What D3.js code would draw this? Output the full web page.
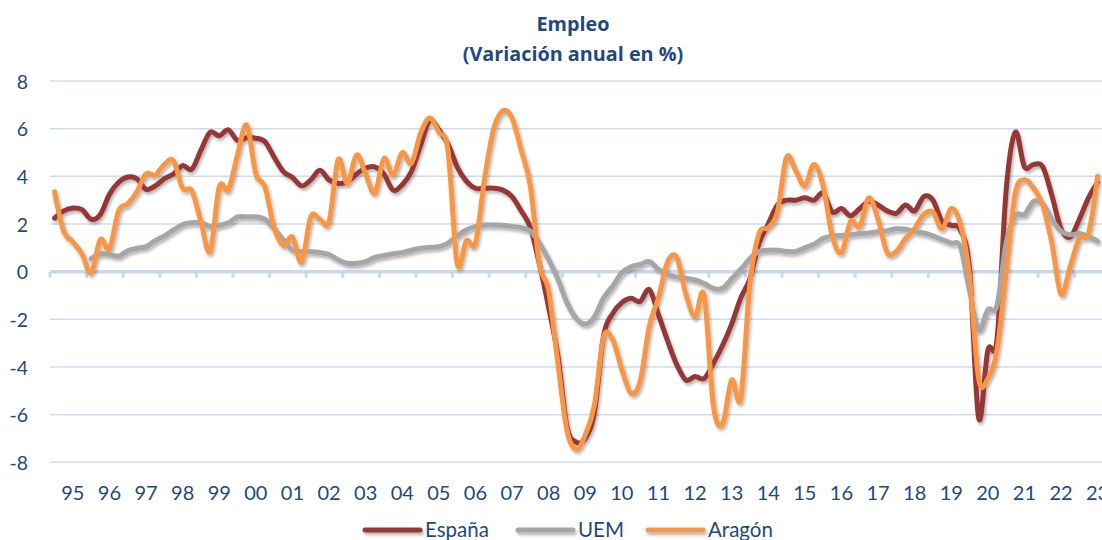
<!DOCTYPE html>
<html>
<head>
<meta charset="utf-8">
<script src="https://cdn.jsdelivr.net/npm/d3@7/dist/d3.min.js"></script>
<style>
	html, body { margin: 0; padding: 0; background: #fff; }
	#chart { width: 1102px; height: 540px; overflow: hidden; }
	text { font-family: Lato, "Open Sans", sans-serif; fill: #1F497D; }
</style>
</head>
<body>
<div id="chart"></div>
<script>
// quarterly series, 1994T3 .. 2023T1
var firstYear = 1994, firstQuarter = 3, nPoints = 115;

var yearLabels = ["95","96","97","98","99","00","01","02","03","04","05","06","07","08","09",
	"10","11","12","13","14","15","16","17","18","19","20","21","22","23"];

var yTicks = [-8, -6, -4, -2, 0, 2, 4, 6, 8];

var espana = [
	2.25, 2.55, 2.67, 2.6, 2.2, 2.4, 3.25, 3.75, 3.97, 3.9,
	3.45, 3.6, 3.9, 4.1, 4.45, 4.3, 5.1, 5.85, 5.7, 5.95,
	5.5, 5.62, 5.6, 5.45, 4.8, 4.2, 3.95, 3.6, 3.85, 4.25,
	3.85, 3.7, 3.77, 4.1, 4.35, 4.4, 4.1, 3.42, 3.65, 4.2,
	5.3, 6.35, 5.95, 5.35, 4.4, 3.8, 3.5, 3.5, 3.5, 3.42,
	3.15, 2.55, 1.85, 0.3, -1.5, -3.5, -6.5, -7.15, -7.0, -5.9,
	-2.7, -1.75, -1.3, -1.12, -1.25, -0.75, -1.8, -2.9, -3.9, -4.55,
	-4.4, -4.48, -3.85, -3.1, -2.2, -1.1, -0.3, 1.2, 2.0, 2.8,
	3.0, 3.0, 3.1, 3.0, 3.3, 2.5, 2.65, 2.35, 2.65, 2.95,
	2.8, 2.55, 2.45, 2.8, 2.55, 3.15, 3.0, 2.1, 1.95, 1.75,
	0.1, -6.15, -3.3, -2.85, 3.4, 5.85, 4.4, 4.5, 4.4, 3.2,
	1.8, 1.45, 2.2, 3.1, 3.75
];

var uem = [
	null, null, null, null, 0.55, 0.75, 0.72, 0.65, 0.88, 0.98,
	1.05, 1.3, 1.5, 1.75, 1.98, 2.05, 2.05, 1.9, 1.95, 2.05,
	2.3, 2.3, 2.3, 2.2, 1.8, 1.33, 0.9, 0.84, 0.84, 0.8,
	0.72, 0.5, 0.35, 0.35, 0.42, 0.6, 0.68, 0.75, 0.8, 0.9,
	0.98, 1.02, 1.05, 1.2, 1.5, 1.75, 1.9, 1.96, 1.96, 1.95,
	1.9, 1.85, 1.7, 1.2, 0.5, -0.3, -1.3, -1.95, -2.2, -1.9,
	-1.1, -0.6, -0.05, 0.2, 0.3, 0.42, 0.1, -0.12, -0.22, -0.28,
	-0.35, -0.5, -0.7, -0.7, -0.3, 0.1, 0.55, 0.85, 0.9, 0.9,
	0.85, 0.85, 1.0, 1.15, 1.4, 1.5, 1.52, 1.55, 1.6, 1.62,
	1.68, 1.72, 1.8, 1.78, 1.68, 1.62, 1.5, 1.35, 1.2, 1.05,
	-0.8, -2.45, -1.6, -1.42, 1.2, 2.35, 2.4, 2.95, 2.85, 2.2,
	1.7, 1.55, 1.6, 1.47, 1.28
];

var aragon = [
	3.35, 1.7, 1.25, 0.75, -0.05, 1.35, 0.95, 2.55, 2.85, 3.35,
	4.1, 4.05, 4.5, 4.65, 3.5, 3.4, 2.1, 0.85, 3.55, 3.45,
	4.9, 6.15, 4.1, 3.55, 1.85, 1.1, 1.45, 0.4, 2.3, 2.2,
	2.1, 4.7, 3.7, 4.9, 4.1, 3.3, 4.75, 4.05, 5.0, 4.55,
	5.8, 6.45, 5.85, 5.1, 0.35, 1.3, 1.2, 3.9, 6.0, 6.75,
	6.45, 5.1, 3.6, 0.3, -0.8, -3.8, -6.65, -7.45, -6.85, -5.6,
	-2.75, -2.85, -4.1, -5.1, -4.6, -2.3, -1.1, 0.4, 0.6, -0.95,
	-1.9, -1.0, -5.6, -6.4, -4.55, -5.3, -0.5, 1.6, 1.85, 2.5,
	4.8, 4.25, 3.6, 4.5, 3.6, 1.5, 0.8, 2.1, 1.9, 3.1,
	2.2, 0.8, 0.85, 1.4, 1.8, 2.4, 2.5, 1.8, 2.65, 2.0,
	-0.2, -4.5, -4.5, -3.3, 0.0, 3.3, 3.85, 3.5, 2.8, 1.2,
	-0.95, 0.2, 1.4, 1.6, 4.0
];

var seriesNames = ["España", "UEM", "Aragón"];
var seriesColors = ["#953735", "#A6A6A6", "#F79646"];

// build quarter categories
var categories = [];
for (var q = 0; q < nPoints; q++) {
	var k = firstQuarter - 1 + q;
	categories.push((firstYear + Math.floor(k / 4)) + "T" + (k % 4 + 1));
}

var width = 1102, height = 540;
var plotLeft = 50, plotRight = 1102.2, plotTop = 81, plotBottom = 462.3;

var svg = d3.select("#chart").append("svg")
	.attr("width", width)
	.attr("height", height);

// soft excel-like shadow
var defs = svg.append("defs");
defs.append("filter")
	.attr("id", "shadow")
	.attr("filterUnits", "userSpaceOnUse")
	.attr("x", 0).attr("y", 0).attr("width", width).attr("height", height)
	.append("feDropShadow")
	.attr("dx", 1.5).attr("dy", 2.5)
	.attr("stdDeviation", 1.6)
	.attr("flood-color", "#000")
	.attr("flood-opacity", 0.3);

var x = d3.scaleBand()
	.domain(categories)
	.range([plotLeft, plotRight])
	.padding(0);

var y = d3.scaleLinear()
	.domain([-8, 8])
	.range([plotBottom, plotTop]);

var cx = function(c) { return x(c) + x.bandwidth() / 2; };

// gridlines
svg.append("g")
	.attr("class", "grid")
	.selectAll("line")
	.data(yTicks.filter(function(d) { return d !== 0; }))
	.enter().append("line")
	.attr("x1", plotLeft)
	.attr("x2", plotRight)
	.attr("y1", function(d) { return y(d); })
	.attr("y2", function(d) { return y(d); })
	.attr("stroke", "#CFDDEF")
	.attr("stroke-width", 1.5);

// y axis labels (plain hyphen for negatives, as in the original)
var yAxis = d3.axisLeft(y)
	.tickValues(yTicks)
	.tickSize(0)
	.tickPadding(0)
	.tickFormat(function(d) { return String(d); });

var yAxisG = svg.append("g")
	.attr("transform", "translate(28,0)")
	.call(yAxis);
yAxisG.select(".domain").remove();
yAxisG.selectAll("text")
	.attr("x", 0)
	.attr("dy", "0.36em")
	.style("font-size", "19.5px")
	.style("fill", "#1F497D");

// zero axis with tick marks every 4 quarters
var zeroY = y(0);
svg.append("line")
	.attr("x1", plotLeft)
	.attr("x2", plotRight)
	.attr("y1", zeroY)
	.attr("y2", zeroY)
	.attr("stroke", "#C9D9EE")
	.attr("stroke-width", 3.5);

svg.append("g")
	.selectAll("line")
	.data(categories.filter(function(d, i) { return i % 4 === 0; }))
	.enter().append("line")
	.attr("x1", function(d) { return x(d); })
	.attr("x2", function(d) { return x(d); })
	.attr("y1", zeroY)
	.attr("y2", zeroY + 6)
	.attr("stroke", "#C9D9EE")
	.attr("stroke-width", 3);

// year labels under the plot, on first quarter of each year
var labelCats = categories.filter(function(d) { return /T1$/.test(d); });
svg.append("g")
	.selectAll("text")
	.data(labelCats)
	.enter().append("text")
	.attr("x", function(d) { return cx(d); })
	.attr("y", 500)
	.attr("text-anchor", "middle")
	.style("font-size", "20px")
	.text(function(d, i) { return yearLabels[i]; });

// series
var allSeries = [espana, uem, aragon];
var line = d3.line()
	.defined(function(d) { return d !== null; })
	.x(function(d, i) { return cx(categories[i]); })
	.y(function(d) { return y(d); })
	.curve(d3.curveCardinal.tension(0));

svg.append("g")
	.attr("filter", "url(#shadow)")
	.selectAll("path")
	.data(allSeries)
	.enter().append("path")
	.attr("d", line)
	.attr("fill", "none")
	.attr("stroke", function(d, i) { return seriesColors[i]; })
	.attr("stroke-width", 5)
	.attr("stroke-linejoin", "round")
	.attr("stroke-linecap", "round");

// title
var title = svg.append("text")
	.attr("text-anchor", "middle")
	.style("font-family", "'Open Sans', Lato, sans-serif")
	.style("font-size", "19.8px")
	.style("font-weight", "bold");
title.append("tspan").attr("x", 573).attr("y", 31).text("Empleo");
title.append("tspan").attr("x", 573).attr("y", 61).text("(Variación anual en %)");

// legend
var legendX = [365, 518, 648];
var legend = svg.append("g").attr("filter", "url(#shadow)");
legend.selectAll("line")
	.data(seriesNames)
	.enter().append("line")
	.attr("x1", function(d, i) { return legendX[i]; })
	.attr("x2", function(d, i) { return legendX[i] + 55; })
	.attr("y1", 530)
	.attr("y2", 530)
	.attr("stroke", function(d, i) { return seriesColors[i]; })
	.attr("stroke-width", 5)
	.attr("stroke-linecap", "round");

svg.append("g")
	.selectAll("text")
	.data(seriesNames)
	.enter().append("text")
	.attr("x", function(d, i) { return legendX[i] + 60; })
	.attr("y", 537)
	.style("font-size", "20.5px")
	.text(function(d) { return d; });
</script>
</body>
</html>
